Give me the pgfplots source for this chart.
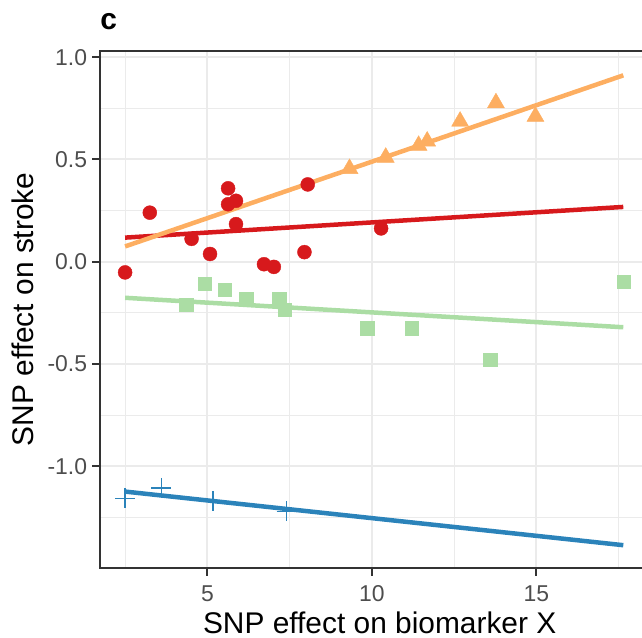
\documentclass[border=0pt]{standalone}
\usepackage{pgfplots}
\pgfplotsset{compat=1.18}
\usepackage{fontspec}
\setmainfont{Liberation Sans}
\definecolor{cred}{HTML}{D7191C}
\definecolor{corange}{HTML}{FDAE61}
\definecolor{cgreen}{HTML}{ABDDA4}
\definecolor{cblue}{HTML}{2B83BA}
\definecolor{grid92}{HTML}{EBEBEB}
\definecolor{grey20}{HTML}{333333}
\definecolor{grey30}{HTML}{4D4D4D}
\begin{document}
\begin{tikzpicture}
\begin{axis}[
  at={(0,0)}, anchor=south west,
  scale only axis, width=548bp, height=516.7bp,
  xmin=1.743, xmax=18.397, ymin=-1.495, ymax=1.030,
  xtick={5,10,15}, xticklabels={5,10,15},
  ytick={-1,-0.5,0,0.5,1}, yticklabels={-1.0,-0.5,0.0,0.5,1.0},
  minor xtick={2.5,7.5,12.5,17.5},
  minor ytick={-1.25,-0.75,-0.25,0.25,0.75},
  grid=both,
  major grid style={draw=grid92, line width=2bp},
  minor grid style={draw=grid92, line width=1bp},
  tick align=outside, xtick pos=bottom, ytick pos=left,
  major tick length=8bp, minor tick length=0pt,
  major tick style={draw=grey20, line width=2bp},
  axis line style={draw=grey20, line width=2bp},
  tick label style={font=\fontsize{23}{27}\selectfont, text=grey30, inner sep=0pt},
  xticklabel style={anchor=north, yshift=-10bp},
  yticklabel style={anchor=east, xshift=-5bp},
  xlabel={SNP effect on biomarker X},
  ylabel={SNP effect on stroke},
  label style={font=\fontsize{30}{36}\selectfont, inner sep=0pt},
  xlabel style={at={(axis description cs:0.5100,-0.1282)}, anchor=base},
  ylabel style={at={(axis description cs:-0.1221,0.5)}, anchor=base},
  title={c},
  title style={at={(axis description cs:0,1.0296)}, anchor=base west, inner sep=0pt, font=\fontsize{30}{36}\selectfont\bfseries},
]
% points
\addplot[only marks, mark=*, mark size=7bp, color=cred, mark options={draw=none, fill=cred}] coordinates {
(2.50,-0.052) (3.25,0.240) (4.52,0.112) (5.08,0.038) (5.63,0.359) (5.63,0.281)
(5.87,0.298) (5.87,0.184) (6.72,-0.012) (7.02,-0.025) (7.95,0.047) (8.05,0.378) (10.28,0.163)
};
\addplot[only marks, mark=square*, mark size=6.75bp, color=cgreen, mark options={draw=none, fill=cgreen}] coordinates {
(4.36,-0.209) (4.92,-0.106) (5.53,-0.136) (6.18,-0.180) (7.18,-0.184) (7.35,-0.234)
(9.85,-0.324) (11.21,-0.324) (13.59,-0.479) (17.65,-0.098)
};
\addplot[only marks, mark=triangle*, mark size=9.8bp, color=corange, mark options={draw=none, fill=corange}] coordinates {
(9.32,0.455) (10.42,0.510) (11.42,0.568) (11.68,0.589) (12.68,0.686) (13.77,0.776) (14.97,0.710)
};
\addplot[only marks, mark=+, mark size=10bp, color=cblue, mark options={line width=1.5bp}] coordinates {
(2.50,-1.156) (3.60,-1.105) (5.17,-1.168) (7.41,-1.220)
};
% fitted lines
\addplot[no marks, color=cred, line width=4.5bp] coordinates {(2.50,0.118) (17.64,0.268)};
\addplot[no marks, color=cgreen, line width=4.5bp] coordinates {(2.50,-0.176) (17.64,-0.320)};
\addplot[no marks, color=cblue, line width=4.5bp] coordinates {(2.50,-1.123) (17.64,-1.385)};
\addplot[no marks, color=corange, line width=4.5bp] coordinates {(2.50,0.075) (17.64,0.911)};
\end{axis}
\pgfresetboundingbox
\path[use as bounding box] (-100.2bp,-70.3bp) rectangle (541.8bp,567.7bp);
\end{tikzpicture}
\end{document}
